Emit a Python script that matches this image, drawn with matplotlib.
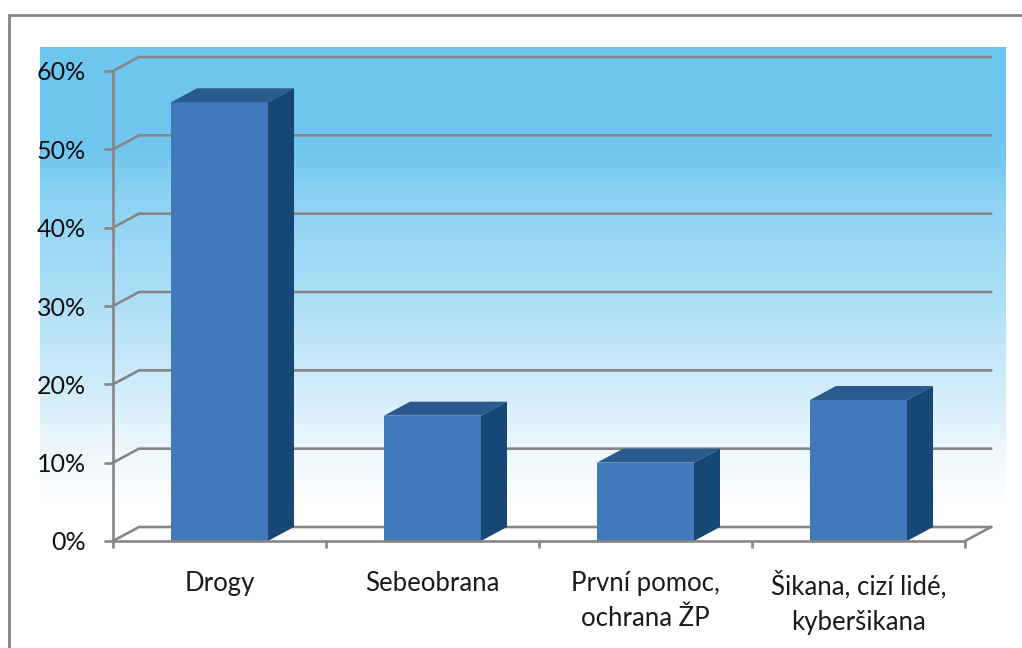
import matplotlib
matplotlib.use("Agg")
import matplotlib.pyplot as plt
import numpy as np
from matplotlib.colors import LinearSegmentedColormap
from matplotlib.patches import Polygon

categories = ["Drogy", "Sebeobrana", "První pomoc,\nochrana ŽP", "Šikana, cizí lidé,\nkyberšikana"]
values = [56, 16, 10, 18]
y_ticks = [0, 10, 20, 30, 40, 50, 60]
y_labels = ["0%", "10%", "20%", "30%", "40%", "50%", "60%"]

W, H = 1022, 648
GREY = "#868686"
FRONT = "#4279BB"
TOP = "#2A5A8E"
SIDE = "#164775"

plt.rcParams["font.family"] = ["Lato", "DejaVu Sans"]

fig = plt.figure(figsize=(W / 100, H / 100), dpi=100)

# background layer in pixel coordinates: frame and gradient panel
bg = fig.add_axes([0, 0, 1, 1], zorder=0)
bg.set_xlim(0, W)
bg.set_ylim(H, 0)
bg.axis("off")
grad_stops = [(0.0, "#6EC5EE"), (0.22, "#70C6EF"), (0.33, "#8CD2F3"), (0.55, "#ADDFF6"),
              (0.77, "#D5EEFA"), (0.88, "#EDF7FC"), (1.0, "#FFFFFF")]
cmap = LinearSegmentedColormap.from_list("panel", grad_stops)
bg.imshow(np.linspace(0, 1, 256).reshape(-1, 1), cmap=cmap, aspect="auto",
          extent=(40, 1006, 505, 47), vmin=0, vmax=1)
bg.set_xlim(0, W)
bg.set_ylim(H, 0)
bg.plot([9, 9, W], [H, 15, 15], color="#848484", lw=2.0, solid_joinstyle="miter")

# plot axes match the front plane of the fake 3D box
ax = fig.add_axes([113 / W, 1 - 541 / H, 852 / W, 470 / H], zorder=1)
ax.patch.set_alpha(0)
ax.set_xlim(-0.5, 3.5)
ax.set_ylim(0, 60)

# depth offset in data units
dx = 26 / 213
dy = 14 / (470 / 60)
xmin, xmax = ax.get_xlim()

for t in y_ticks:
    ax.plot([xmin, xmin + dx, xmax + dx], [t, t + dy, t + dy], color=GREY, lw=1.9,
            clip_on=False, zorder=1, solid_joinstyle="miter")
ax.plot([xmax, xmax + dx], [0, dy], color=GREY, lw=1.9, clip_on=False, zorder=1)

bar_w = 97 / 213
x = np.arange(len(categories))
ax.bar(x, values, width=bar_w, color=FRONT, zorder=3, clip_on=False)
for xi, v in zip(x, values):
    l, r = xi - bar_w / 2, xi + bar_w / 2
    ax.add_patch(Polygon([(l, v), (r, v), (r + dx, v + dy), (l + dx, v + dy)],
                         closed=True, fc=TOP, ec="none", zorder=3, clip_on=False))
    ax.add_patch(Polygon([(r, 0), (r + dx, dy), (r + dx, v + dy), (r, v)],
                         closed=True, fc=SIDE, ec="none", zorder=3, clip_on=False))

for side in ["top", "right"]:
    ax.spines[side].set_visible(False)
for side in ["left", "bottom"]:
    ax.spines[side].set_color(GREY)
    ax.spines[side].set_linewidth(1.9)
    ax.spines[side].set_zorder(4)

ax.set_yticks(y_ticks)
ax.set_yticklabels(y_labels, fontsize=18, color="#111111")
ax.tick_params(axis="y", length=6.5, width=1.9, color=GREY, pad=13)

ax.set_xticks(np.arange(len(categories) + 1) - 0.5)
ax.set_xticklabels([])
ax.set_xticks(x, minor=True)
ax.set_xticklabels(categories, minor=True, fontsize=18.5, color="#1A1A1A", linespacing=1.5)
ax.tick_params(axis="x", which="major", length=5, width=1.9, color=GREY)
ax.tick_params(axis="x", which="minor", length=0, pad=21.5)

fig.savefig("out.png", dpi=100)
